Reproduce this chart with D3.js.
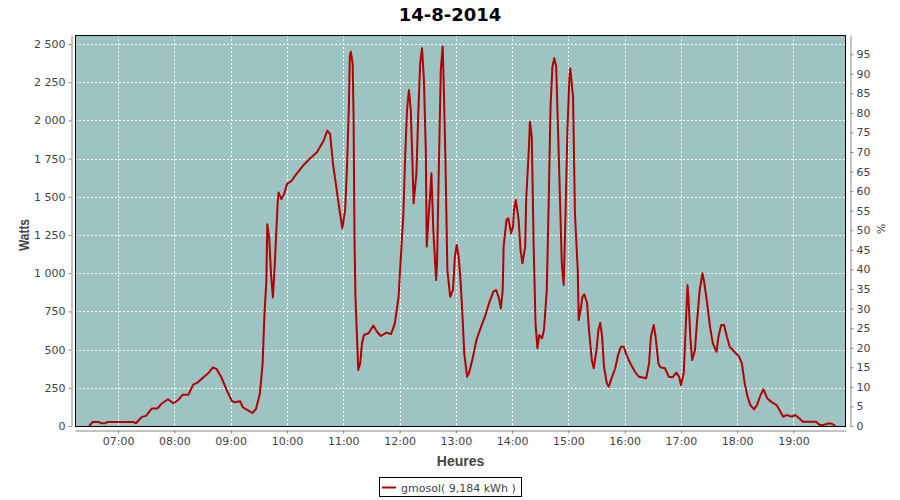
<!DOCTYPE html>
<html>
<head>
<meta charset="utf-8">
<script src="https://cdn.jsdelivr.net/npm/d3@7"></script>
<style>
  html, body { margin: 0; padding: 0; background: #ffffff; }
  svg { display: block; }
  text { font-family: "DejaVu Sans", sans-serif; }
</style>
</head>
<body>
<svg id="chart" width="900" height="500"></svg>
<script>
const title = "14-8-2014";
const seriesName = "gmosol( 9,184 kWh )";
const xLabel = "Heures";
const yLabel = "Watts";
const y2Label = "%";

const times = [
"06:29","06:33","06:39","06:42","06:46","06:49","07:16","07:19","07:25","07:30",
"07:36","07:42","07:46","07:53","07:59","08:04","08:09","08:15","08:20","08:25",
"08:31","08:36","08:41","08:45","08:50","08:56","09:01","09:04","09:10","09:13",
"09:19","09:23","09:27","09:31","09:34","09:36","09:38","09:39","09:41","09:43",
"09:45","09:47","09:48","09:50","09:51","09:54","09:57","10:00","10:05","10:10",
"10:17","10:24","10:32","10:39","10:43","10:46","10:49","10:53","10:56","10:59",
"11:02","11:04","11:06","11:07","11:08","11:10","11:11","11:12","11:13","11:16",
"11:18","11:20","11:22","11:27","11:32","11:36","11:40","11:46","11:51","11:55",
"11:59","12:01","12:04","12:06","12:08","12:10","12:12","12:14","12:15","12:18",
"12:20","12:22","12:24","12:26","12:28","12:29","12:31","12:33","12:34","12:36",
"12:39","12:40","12:42","12:44","12:46","12:47","12:49","12:51","12:54","12:57",
"12:59","13:01","13:03","13:05","13:07","13:09","13:12","13:14","13:18","13:22",
"13:27","13:31","13:36","13:40","13:43","13:46","13:48","13:50","13:51","13:54",
"13:56","13:59","14:01","14:02","14:04","14:07","14:09","14:11","14:14","14:15",
"14:18","14:19","14:21","14:23","14:25","14:27","14:29","14:32","14:34","14:37",
"14:39","14:41","14:43","14:45","14:47","14:49","14:51","14:53","14:55","14:57",
"14:59","15:01","15:02","15:05","15:07","15:10","15:11","15:13","15:15","15:17",
"15:20","15:22","15:25","15:27","15:30","15:32","15:34","15:36","15:38","15:41",
"15:43","15:46","15:50","15:53","15:56","15:59","16:02","16:06","16:11","16:15",
"16:18","16:23","16:26","16:28","16:31","16:33","16:36","16:38","16:43","16:47",
"16:51","16:55","16:58","17:00","17:03","17:05","17:07","17:08","17:10","17:12",
"17:15","17:17","17:20","17:23","17:25","17:28","17:31","17:34","17:38","17:40",
"17:43","17:46","17:49","17:52","17:57","18:02","18:05","18:08","18:11","18:14",
"18:18","18:21","18:25","18:28","18:32","18:36","18:42","18:45","18:49","18:53",
"18:58","19:02","19:06","19:10","19:24","19:28","19:32","19:38","19:41","19:45"
];

const watts = [
0,26,27,18,18,27,27,18,58,68,
115,115,144,175,149,170,205,205,271,286,
319,345,384,373,319,231,166,155,162,122,
100,85,111,209,405,732,950,1321,1234,994,
841,1060,1190,1452,1529,1485,1518,1583,1605,1649,
1703,1747,1791,1867,1933,1911,1719,1545,1414,1294,
1414,1697,2090,2417,2450,2374,2024,1217,846,366,
410,541,596,607,657,617,589,611,602,672,
846,1065,1370,1763,2068,2199,2068,1676,1458,1654,
2047,2374,2472,2265,1806,1174,1370,1545,1654,1283,
956,1065,1719,2330,2483,2265,1719,1021,846,890,
1108,1185,1108,956,737,476,323,345,443,563,
650,715,814,879,890,836,770,890,1174,1348,
1359,1261,1305,1414,1479,1348,1152,1065,1174,1479,
1828,1992,1893,1174,672,509,596,574,628,890,
1458,2090,2352,2407,2352,1937,1501,1065,923,1392,
1937,2265,2341,2155,1392,1021,694,759,846,862,
803,628,432,378,497,628,676,584,388,279,
257,312,378,465,519,519,465,410,355,323,
319,312,410,584,661,584,410,384,378,323,
319,349,323,268,345,628,923,846,584,432,
497,672,890,999,934,803,650,541,486,584,
661,661,584,519,486,454,410,279,192,137,
109,137,203,240,181,159,137,105,61,72,
61,72,50,28,28,7,7,18,14,0
];

const xDomain = ["06:14", "19:56"];
const xTicks = ["07:00","08:00","09:00","10:00","11:00","12:00","13:00","14:00","15:00","16:00","17:00","18:00","19:00"];
const yDomain = [0, 2559];
const yTicks = [0,250,500,750,1000,1250,1500,1750,2000,2250,2500];
const pctDomain = [0, 99.9];
const pctTicks = [0,5,10,15,20,25,30,35,40,45,50,55,60,65,70,75,80,85,90,95];

const parseT = s => { const [h, m] = s.split(":").map(Number); return new Date(2014, 7, 14, h, m); };
const data = times.map((t, i) => ({ t: parseT(t), v: watts[i] }));

const svg = d3.select("#chart");
const W = 900, H = 500;
const m = { left: 75, top: 35, right: 54, bottom: 74 };
const pw = W - m.left - m.right;   // 771
const ph = H - m.top - m.bottom;   // 391

const x = d3.scaleTime().domain(xDomain.map(parseT)).range([m.left, m.left + pw]);
const y = d3.scaleLinear().domain(yDomain).range([m.top + ph, m.top]);
const yp = d3.scaleLinear().domain(pctDomain).range([m.top + ph, m.top]);

const loc = d3.formatLocale({ decimal: ",", thousands: " ", grouping: [3], currency: ["", ""] });
const fmtW = loc.format(",d");
const fmtT = d3.timeFormat("%H:%M");

// Title
svg.append("text").attr("x", 450).attr("y", 21).attr("text-anchor", "middle")
  .style("font-size", "18px").style("font-weight", "bold").attr("fill", "#000").text(title);

// Plot background
svg.append("rect").attr("x", m.left).attr("y", m.top).attr("width", pw).attr("height", ph).attr("fill", "#9ec3c3");

// Gridlines
const grid = svg.append("g");
grid.selectAll("line.h").data(yTicks.filter(d => d > 0)).join("line")
  .attr("x1", m.left).attr("x2", m.left + pw)
  .attr("y1", d => Math.round(y(d)) + 0.5).attr("y2", d => Math.round(y(d)) + 0.5)
  .attr("stroke", "#ffffff").attr("stroke-width", 1).attr("stroke-dasharray", "2,2");
grid.selectAll("line.v").data(xTicks.map(parseT)).join("line")
  .attr("y1", m.top).attr("y2", m.top + ph)
  .attr("x1", d => Math.round(x(d)) + 0.5).attr("x2", d => Math.round(x(d)) + 0.5)
  .attr("stroke", "#ffffff").attr("stroke-width", 1).attr("stroke-dasharray", "2,2");

// Line
svg.append("clipPath").attr("id", "clip").append("rect")
  .attr("x", m.left).attr("y", m.top).attr("width", pw).attr("height", ph);
svg.append("path").datum(data)
  .attr("clip-path", "url(#clip)")
  .attr("fill", "none").attr("stroke", "#b20000").attr("stroke-width", 2)
  .attr("stroke-linejoin", "round")
  .attr("d", d3.line().x(d => x(d.t)).y(d => y(d.v)));

// Plot border
svg.append("rect").attr("x", m.left + 0.5).attr("y", m.top + 0.5).attr("width", pw - 1).attr("height", ph)
  .attr("fill", "none").attr("stroke", "#000").attr("stroke-width", 1);

// Axes
const axisColor = "#888888";
const textColor = "#444444";
function styleAxis(g) {
  g.select(".domain").attr("stroke", axisColor);
  g.selectAll(".tick line").attr("stroke", axisColor);
  g.selectAll(".tick text").attr("fill", textColor).style("font-size", "11px").style("font-family", "DejaVu Sans, sans-serif");
}

const gx = svg.append("g").attr("transform", `translate(0,${m.top + ph + 4.5})`)
  .call(d3.axisBottom(x).tickValues(xTicks.map(parseT)).tickFormat(fmtT).tickSize(3).tickSizeOuter(0).tickPadding(4));
styleAxis(gx);

const gy = svg.append("g").attr("transform", `translate(${m.left - 3.5},0)`)
  .call(d3.axisLeft(y).tickValues(yTicks).tickFormat(fmtW).tickSize(3).tickSizeOuter(0).tickPadding(3));
styleAxis(gy);

const gy2 = svg.append("g").attr("transform", `translate(${m.left + pw + 4.5},0)`)
  .call(d3.axisRight(yp).tickValues(pctTicks).tickFormat(d3.format("d")).tickSize(3).tickSizeOuter(0).tickPadding(3));
styleAxis(gy2);

// Axis labels
svg.append("text").attr("x", m.left + pw / 2).attr("y", 466).attr("text-anchor", "middle")
  .style("font-family", "Liberation Sans, sans-serif")
  .style("font-size", "14px").style("font-weight", "bold").attr("fill", textColor).text(xLabel);
svg.append("text").attr("transform", `translate(29,235) rotate(-90)`).attr("text-anchor", "middle")
  .attr("textLength", 32).attr("lengthAdjust", "spacingAndGlyphs")
  .style("font-family", "Liberation Sans, sans-serif")
  .style("font-size", "14px").style("font-weight", "bold").attr("fill", textColor).text(yLabel);
svg.append("text").attr("transform", `translate(877,229) rotate(90)`).attr("text-anchor", "middle")
  .style("font-size", "11px").attr("fill", textColor).text(y2Label);

// Legend
const lg = svg.append("g");
lg.append("rect").attr("x", 379.5).attr("y", 477.5).attr("width", 142).attr("height", 19)
  .attr("fill", "#fff").attr("stroke", "#000").attr("stroke-width", 1);
lg.append("line").attr("x1", 382).attr("x2", 396).attr("y1", 487.5).attr("y2", 487.5)
  .attr("stroke", "#b20000").attr("stroke-width", 2);
lg.append("text").attr("x", 401).attr("y", 491.5)
  .style("font-size", "11px").attr("fill", textColor).text(seriesName);
</script>
</body>
</html>
